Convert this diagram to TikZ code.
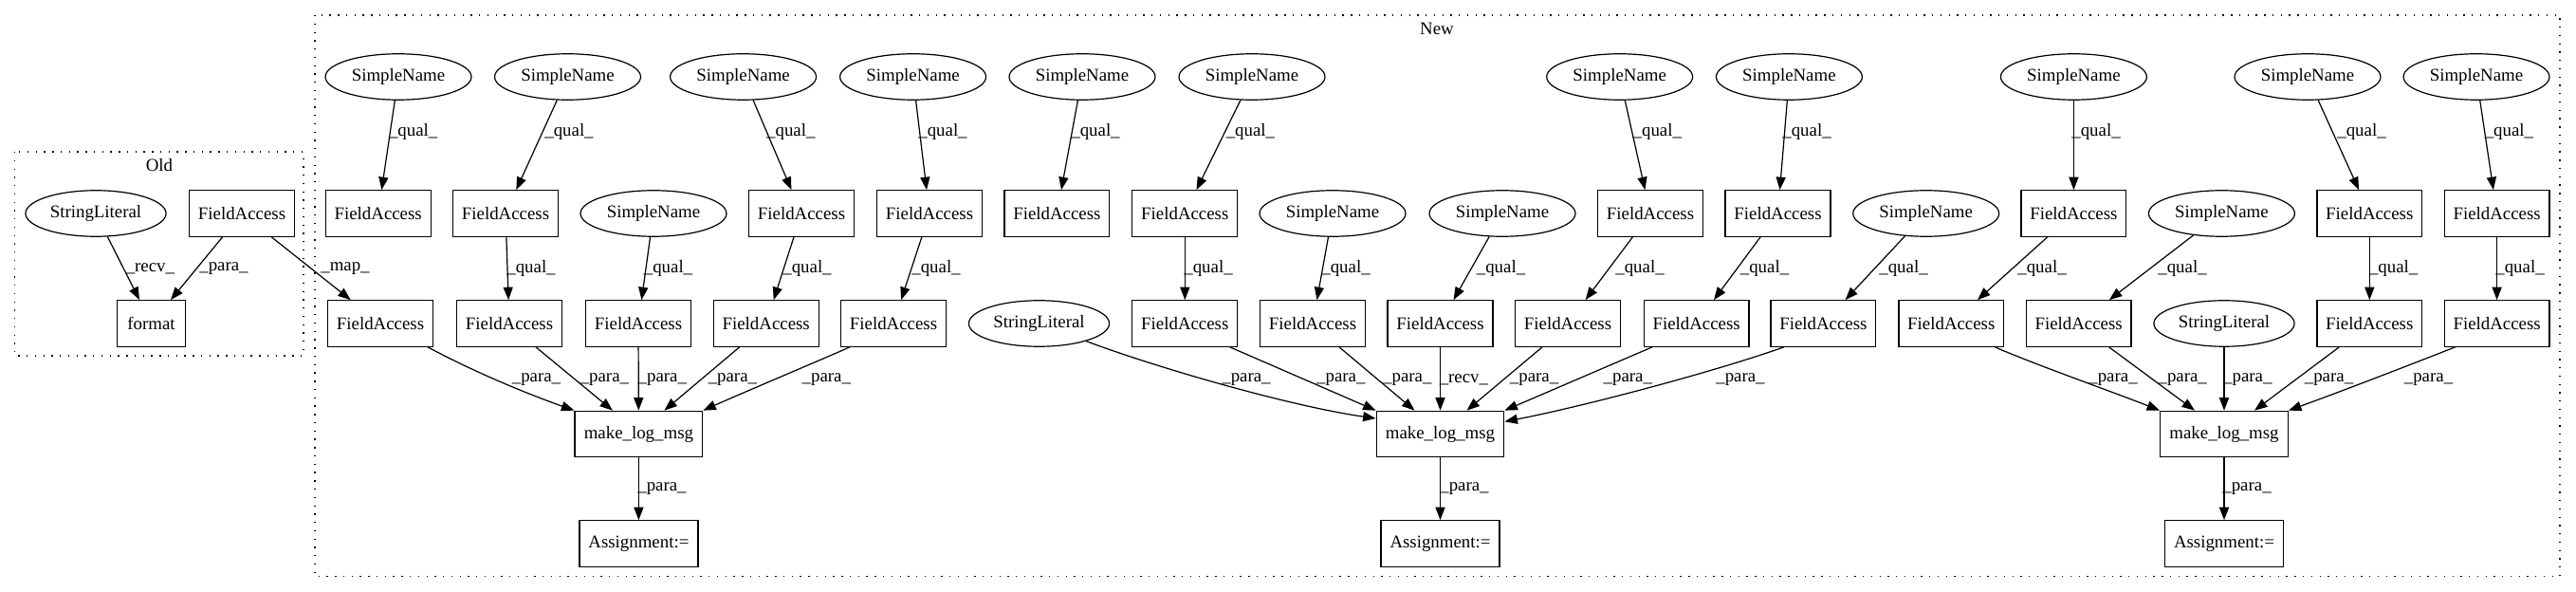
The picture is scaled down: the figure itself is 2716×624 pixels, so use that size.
\documentclass[tikz,border=0pt]{standalone}
\usepackage{fontspec}
\setmainfont{Liberation Serif}
\usetikzlibrary{shapes.geometric,arrows.meta,calc}
\newcommand{\gvfont}{\fontsize{14pt}{16pt}\selectfont}
\tikzset{
  box/.style={draw, rectangle, minimum height=36pt, inner sep=0pt, line width=0.9pt, font=\gvfont},
  fa/.style={box, minimum width=82.3pt},
  ell/.style={draw, ellipse, minimum height=36pt, inner sep=0pt, line width=0.9pt, font=\gvfont},
  sn/.style={ell, minimum width=114.3pt},
  sl/.style={ell, minimum width=110pt},
  arr/.style={-{Triangle[length=10pt,width=7.5pt]}, line width=0.9pt},
  lbl/.style={inner sep=0pt, font=\gvfont},
  clus/.style={draw, dash pattern=on 1pt off 5.5pt, line width=0.9pt}
}
\begin{document}
\begin{tikzpicture}[x=0.7425pt,y=-0.7425pt]
\useasboundingbox (0,0) rectangle (2716,624);
\fill[white] (0,0) rectangle (2716,624);

% ---------- Old cluster ----------
\draw[clus] (15.5,160) rectangle (320,375);
\node[lbl] (oldlbl) at (168,174) {Old};
\node[sl] (oSL) at (101,225) {StringLiteral};
\node[fa] (oFA) at (255,225) {FieldAccess};
\node[box, minimum width=53.8pt] (oFmt) at (159.6,341) {format};

% ---------- New cluster ----------
\draw[clus] (332,16) rectangle (2699,607.6);
\node[lbl] (newlbl) at (1515,30) {New};

% row 1
\node[sn] (s1) at (420,81) {SimpleName};
\node[sn] (s2) at (598.5,81) {SimpleName};
\node[sn] (s3) at (783.6,81) {SimpleName};
\node[sn] (s4) at (962.6,81) {SimpleName};
\node[sn] (s6) at (1141,81) {SimpleName};
\node[sn] (s7) at (1320,81) {SimpleName};
\node[sn] (s8) at (1707.7,81) {SimpleName};
\node[sn] (s9) at (1886.4,81) {SimpleName};
\node[sn] (s13) at (2186.4,81) {SimpleName};
\node[sn] (s14) at (2433,81) {SimpleName};
\node[sn] (s15) at (2611,81) {SimpleName};

% row 2
\node[fa] (f1) at (398.7,225) {FieldAccess};
\node[fa] (f2) at (533,225) {FieldAccess};
\node[sn] (s5) at (689,225) {SimpleName};
\node[fa] (f3) at (845,225) {FieldAccess};
\node[fa] (f4) at (980,225) {FieldAccess};
\node[fa] (f5) at (1114.4,225) {FieldAccess};
\node[fa] (f6) at (1249.3,225) {FieldAccess};
\node[sn] (s10) at (1405,225) {SimpleName};
\node[sn] (s11) at (1584,225) {SimpleName};
\node[fa] (f7) at (1740,225) {FieldAccess};
\node[fa] (f8) at (1874.5,225) {FieldAccess};
\node[sn] (s12) at (2030.7,225) {SimpleName};
\node[fa] (f9) at (2186.4,225) {FieldAccess};
\node[sn] (s16) at (2342.4,225) {SimpleName};
\node[fa] (f10) at (2498.3,225) {FieldAccess};
\node[fa] (f11) at (2632.6,225) {FieldAccess};

% row 3
\node[fa] (g1) at (401,341) {FieldAccess};
\node[fa] (g2) at (537,341) {FieldAccess};
\node[fa] (g3) at (673,341) {FieldAccess};
\node[fa] (g4) at (807.7,341) {FieldAccess};
\node[fa] (g5) at (942,341) {FieldAccess};
\node[sl] (sl2) at (1095.5,341) {StringLiteral};
\node[fa] (g6) at (1249.3,341) {FieldAccess};
\node[fa] (g7) at (1384,341) {FieldAccess};
\node[fa] (g8) at (1518.5,341) {FieldAccess};
\node[fa] (g9) at (1653,341) {FieldAccess};
\node[fa] (g10) at (1788.6,341) {FieldAccess};
\node[fa] (g11) at (1922.4,341) {FieldAccess};
\node[fa] (g12) at (2057.3,341) {FieldAccess};
\node[fa] (g13) at (2191.6,341) {FieldAccess};
\node[sl] (sl3) at (2345,341) {StringLiteral};
\node[fa] (g14) at (2498.3,341) {FieldAccess};
\node[fa] (g15) at (2632.6,341) {FieldAccess};

% row 4 / 5
\node[box, minimum width=100pt] (m1) at (673.4,457.5) {make\_log\_msg};
\node[box, minimum width=100pt] (m2) at (1518.5,457.5) {make\_log\_msg};
\node[box, minimum width=100pt] (m3) at (2345,457.5) {make\_log\_msg};
\node[box, minimum width=92.8pt] (a1) at (673.4,573) {Assignment:=};
\node[box, minimum width=92.8pt] (a2) at (1518.5,573) {Assignment:=};
\node[box, minimum width=92.8pt] (a3) at (2345,573) {Assignment:=};

% ---------- edges: Old ----------
\draw[arr] (oSL) -- (oFmt) node[lbl] at (158.4,283) {\_recv\_};
\draw[arr] (oFA) -- (oFmt) node[lbl] at (236,283) {\_para\_};
\draw[arr] (oFA) -- (g1) node[lbl] at (364,283) {\_map\_};

% ---------- edges: row1 -> row2 ----------
\draw[arr] (s1) -- (f1) node[lbl] at (435.7,139) {\_qual\_};
\draw[arr] (s2) -- (f2) node[lbl] at (600,139) {\_qual\_};
\draw[arr] (s3) -- (f3) node[lbl] at (833.8,139) {\_qual\_};
\draw[arr] (s4) -- (f4) node[lbl] at (994,139) {\_qual\_};
\draw[arr] (s6) -- (f5) node[lbl] at (1155,139) {\_qual\_};
\draw[arr] (s7) -- (f6) node[lbl] at (1318.4,139) {\_qual\_};
\draw[arr] (s8) -- (f7) node[lbl] at (1747.3,139) {\_qual\_};
\draw[arr] (s9) -- (f8) node[lbl] at (1905,139) {\_qual\_};
\draw[arr] (s13) -- (f9) node[lbl] at (2210,139) {\_qual\_};
\draw[arr] (s14) -- (f10) node[lbl] at (2490,139) {\_qual\_};
\draw[arr] (s15) -- (f11) node[lbl] at (2645.4,139) {\_qual\_};

% ---------- edges: row2 -> row3 ----------
\draw[arr] (f2) -- (g2) node[lbl] at (560,283) {\_qual\_};
\draw[arr] (s5) -- (g3) node[lbl] at (704.5,283) {\_qual\_};
\draw[arr] (f3) -- (g4) node[lbl] at (851,283) {\_qual\_};
\draw[arr] (f4) -- (g5) node[lbl] at (987,283) {\_qual\_};
\draw[arr] (f6) -- (g6) node[lbl] at (1274,283) {\_qual\_};
\draw[arr] (s10) -- (g7) node[lbl] at (1419,283) {\_qual\_};
\draw[arr] (s11) -- (g8) node[lbl] at (1582.5,283) {\_qual\_};
\draw[arr] (f7) -- (g9) node[lbl] at (1729,283) {\_qual\_};
\draw[arr] (f8) -- (g10) node[lbl] at (1860.5,283) {\_qual\_};
\draw[arr] (s12) -- (g11) node[lbl] at (2007,283) {\_qual\_};
\draw[arr] (f9) -- (g12) node[lbl] at (2153,283) {\_qual\_};
\draw[arr] (s16) -- (g13) node[lbl] at (2301,283) {\_qual\_};
\draw[arr] (f10) -- (g14) node[lbl] at (2523.7,283) {\_qual\_};
\draw[arr] (f11) -- (g15) node[lbl] at (2657,283) {\_qual\_};

% ---------- edges into make_log_msg 1 ----------
\draw[arr] ($(g1.south)+(50,0)$) .. controls (496,390) and (550,413) .. (m1.north west) node[lbl] at (565.5,400) {\_para\_};
\draw[arr] ($(g2.south)+(28,0)$) -- ($(m1.north)+(-27.5,0)$) node[lbl] at (637.4,400) {\_para\_};
\draw[arr] (g3) -- (m1) node[lbl] at (698.3,400) {\_para\_};
\draw[arr] ($(g4.south)+(-28,0)$) -- ($(m1.north)+(27,0)$) node[lbl] at (772.4,400) {\_para\_};
\draw[arr] ($(g5.south)+(-46,0)$) .. controls (850,386) and (790,411) .. (m1.north east) node[lbl] at (871.3,400) {\_para\_};
\draw[arr] (m1) -- (a1) node[lbl] at (698,515) {\_para\_};

% ---------- edges into make_log_msg 2 ----------
\draw[arr] (sl2) .. controls (1221,388) and (1360,428) .. ($(m2.north west)+(0,8.4)$) node[lbl] at (1314,400) {\_para\_};
\draw[arr] ($(g6.south)+(47.4,0)$) -- (m2.north west) node[lbl] at (1413.8,400) {\_para\_};
\draw[arr] ($(g7.south)+(28,0)$) -- ($(m2.north)+(-27,0)$) node[lbl] at (1483.8,400) {\_para\_};
\draw[arr] (g8) -- (m2) node[lbl] at (1543.4,400) {\_recv\_};
\draw[arr] ($(g9.south)+(-27,0)$) -- ($(m2.north)+(28,0)$) node[lbl] at (1617.6,400) {\_para\_};
\draw[arr] ($(g10.south)+(-46.6,0)$) -- (m2.north east) node[lbl] at (1716.3,400) {\_para\_};
\draw[arr] ($(g11.south)+(-41.5,0)$) .. controls (1801,394) and (1662,430) .. ($(m2.north east)+(0,11.7)$) node[lbl] at (1835,400) {\_para\_};
\draw[arr] (m2) -- (a2) node[lbl] at (1544,515) {\_para\_};

% ---------- edges into make_log_msg 3 ----------
\draw[arr] ($(g12.south)+(46,0)$) .. controls (2145,384) and (2230,414) .. (m3.north west) node[lbl] at (2228,400) {\_para\_};
\draw[arr] ($(g13.south)+(32,0)$) -- ($(m3.north)+(-31,0)$) node[lbl] at (2301.2,400) {\_para\_};
\draw[arr] (sl3) -- (m3) node[lbl] at (2369.8,400) {\_para\_};
\draw[arr] ($(g14.south)+(-32,0)$) -- ($(m3.north)+(32,0)$) node[lbl] at (2455.5,400) {\_para\_};
\draw[arr] ($(g15.south)+(-44,0)$) .. controls (2545,383) and (2470,412) .. (m3.north east) node[lbl] at (2560.5,400) {\_para\_};
\draw[arr] (m3) -- (a3) node[lbl] at (2369,515) {\_para\_};
\end{tikzpicture}
\end{document}
